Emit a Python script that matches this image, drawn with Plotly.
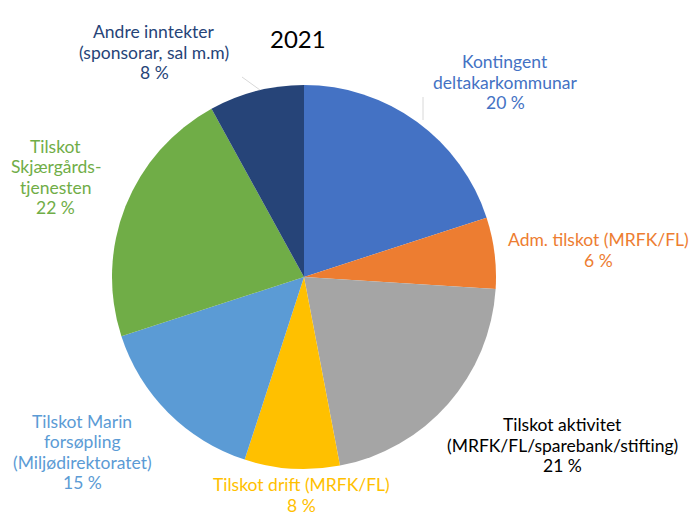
import plotly.graph_objects as go

W, H = 690, 515

title = "2021"
labels = [
    "Kontingent<br>deltakarkommunar",
    "Adm. tilskot (MRFK/FL)",
    "Tilskot aktivitet<br>(MRFK/FL/sparebank/stifting)",
    "Tilskot drift (MRFK/FL)",
    "Tilskot Marin<br>forsøpling<br>(Miljødirektoratet)",
    "Tilskot<br>Skjærgårds-<br>tjenesten",
    "Andre inntekter<br>(sponsorar, sal m.m)",
]
values = [20, 6, 21, 8, 15, 22, 8]
colors = ["#4472C4", "#ED7D31", "#A5A5A5", "#FFC000", "#5B9BD5", "#70AD47", "#264478"]
text_colors = ["#4472C4", "#ED7D31", "#000000", "#FFC000", "#5B9BD5", "#70AD47", "#264478"]

# label block centres in pixels from top-left
label_px = [(505, 82), (598, 250), (562, 445), (301, 495), (82, 452), (56, 177), (154, 52)]
line_gap = 20.5


def px(x, y):
    return x / W, 1 - y / H


fig = go.Figure()
fig.add_trace(go.Pie(
    labels=[l.replace("<br>", " ") for l in labels],
    values=values,
    sort=False,
    direction="clockwise",
    rotation=0,
    marker=dict(colors=colors, line=dict(width=0)),
    textinfo="none",
    hoverinfo="label+percent",
    showlegend=False,
    domain=dict(x=[112 / W, 496 / W], y=[1 - 469 / H, 1 - 85 / H]),
))

for lab, v, c, (cx, cy) in zip(labels, values, text_colors, label_px):
    lines = f"{lab}<br>{v} %".split("<br>")
    n = len(lines)
    for i, line in enumerate(lines):
        x, y = px(cx, cy + (i - (n - 1) / 2) * line_gap)
        fig.add_annotation(
            x=x, y=y, xref="paper", yref="paper", text=line,
            showarrow=False, xanchor="center", yanchor="middle",
            font=dict(family="Lato", size=17.5, color=c),
        )

x, y = px(298, 39)
fig.add_annotation(
    x=x, y=y, xref="paper", yref="paper", text=title,
    showarrow=False, xanchor="center", yanchor="middle",
    font=dict(family="Lato", size=24, color="#000000"),
)

# faint leader lines
x0, y0 = px(242, 77)
x1, y1 = px(260, 90)
fig.add_shape(type="line", xref="paper", yref="paper", x0=x0, y0=y0, x1=x1, y1=y1,
              line=dict(color="#d8d8d8", width=1))
x0, y0 = px(423, 97)
x1, y1 = px(423, 120)
fig.add_shape(type="line", xref="paper", yref="paper", x0=x0, y0=y0, x1=x1, y1=y1,
              line=dict(color="#d8d8d8", width=1))

fig.update_layout(
    width=W, height=H,
    margin=dict(l=0, r=0, t=0, b=0),
    paper_bgcolor="white",
    plot_bgcolor="white",
)

fig.write_html("out.html", config={"displayModeBar": False},
               post_script="document.body.style.margin='0';")
